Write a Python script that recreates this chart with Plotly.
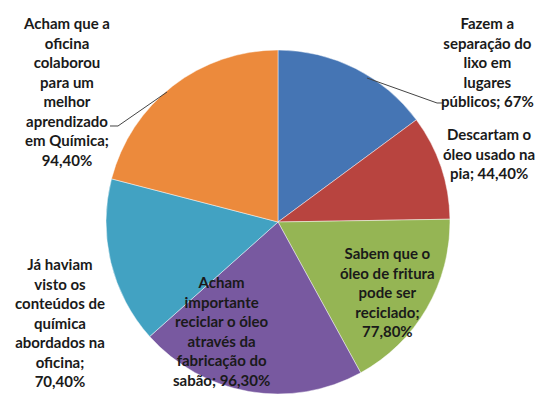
import plotly.graph_objects as go

labels = [
    "Fazem a<br>separação do<br>lixo em<br>lugares<br>públicos; 67%",
    "Descartam o<br>óleo usado na<br>pia; 44,40%",
    "Sabem que o<br>óleo de fritura<br>pode ser<br>reciclado;<br>77,80%",
    "Acham<br>importante<br>reciclar o óleo<br>através da<br>fabricação do<br>sabão; 96,30%",
    "Já haviam<br>visto os<br>conteúdos de<br>química<br>abordados na<br>oficina;<br>70,40%",
    "Acham que a<br>oficina<br>colaborou<br>para um<br>melhor<br>aprendizado<br>em Química;<br>94,40%",
]
values = [67.0, 44.4, 77.8, 96.3, 70.4, 94.4]
colors = ["#4575B4", "#B8443F", "#95B554", "#7859A0", "#42A2C2", "#EC8A3C"]

# label anchor points (paper coords)
label_pos = [(0.902, 0.848), (0.906, 0.621), (0.718, 0.280), (0.411, 0.1815), (0.111, 0.2025), (0.124, 0.7753)]

fig = go.Figure(go.Pie(
    labels=labels, values=values, sort=False, direction="clockwise", rotation=0,
    marker=dict(colors=colors, line=dict(color="rgba(255,255,255,0.45)", width=1)),
    textinfo="none", hoverinfo="label+value", showlegend=False,
    domain=dict(x=[0.1963, 0.8333], y=[0.0272, 0.8765]),
))

for lab, (x, y) in zip(labels, label_pos):
    fig.add_annotation(x=x, y=y, xref="paper", yref="paper", text=lab, showarrow=False,
                       font=dict(family="Lato", size=15, color="#1a1a1a", weight="bold"),
                       align="center", xanchor="center", yanchor="middle")

# leader lines
fig.add_shape(type="path", xref="paper", yref="paper",
              path="M 0.6796 0.8074 L 0.8093 0.7457 L 0.8222 0.7457",
              line=dict(color="#444", width=1))
fig.add_shape(type="path", xref="paper", yref="paper",
              path="M 0.3093 0.7728 L 0.2185 0.6889 L 0.2037 0.6889",
              line=dict(color="#444", width=1))

fig.update_layout(width=540, height=405, margin=dict(l=0, r=0, t=0, b=0),
                  paper_bgcolor="white", plot_bgcolor="white")
fig.write_html("out.html", config={"displayModeBar": False},
               post_script="document.body.style.margin='0';document.body.style.overflow='hidden';")
